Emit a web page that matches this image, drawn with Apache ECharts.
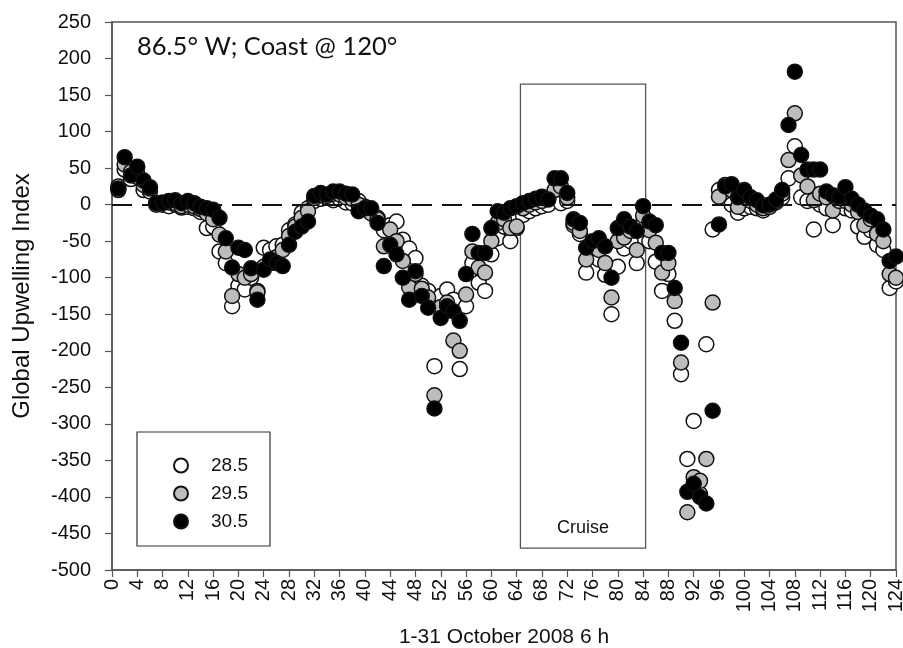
<!DOCTYPE html>
<html>
<head>
<meta charset="utf-8">
<script src="https://cdn.jsdelivr.net/npm/echarts@6/dist/echarts.min.js"></script>
<style>
html,body{margin:0;padding:0;background:#fff;}
#chart{width:903px;height:648px;}
</style>
</head>
<body>
<div id="chart"></div>
<script>
// time index (6 h steps, 1-31 October 2008)
const steps = [1,2,3,4,5,6,7,8,9,10,11,12,13,14,15,16,17,18,19,20,21,22,23,24,25,26,27,28,29,30,31,32,33,34,35,36,37,38,39,40,
41,42,43,44,45,46,47,48,49,50,51,52,53,54,55,56,57,58,59,60,61,62,63,64,65,66,67,68,69,70,71,72,73,74,75,76,77,78,79,80,
81,82,83,84,85,86,87,88,89,90,91,92,93,94,95,96,97,98,99,100,101,102,103,104,105,106,107,108,109,110,111,112,113,114,115,116,117,118,119,120,
121,122,123,124];

const s285 = [25,48,35,38,20,18,2,0,-2,0,-4,-3,-5,-10,-32,-30,-64,-80,-139,-111,
-116,-100,-118,-59,-62,-57,-55,-35,-27,-11,-5,5,8,10,6,8,3,2,5,-3,
-10,-18,-35,-28,-23,-48,-60,-73,-111,-118,-221,-125,-116,-130,-225,-139,-80,-107,-118,-68,
-46,-30,-50,-32,-14,-9,-5,-2,0,10,2,5,-28,-40,-93,-65,-75,-96,-150,-85,
-60,-50,-80,-25,-50,-78,-118,-95,-159,-232,-348,-296,-396,-191,-34,20,10,0,-11,-5,
-3,-5,-8,-2,3,10,36,80,10,5,-34,0,-5,-28,0,-5,-8,-30,-44,-35,
-55,-62,-114,-105];

const s295 = [20,55,45,42,27,22,0,2,3,2,-2,0,-2,-6,-12,-20,-41,-64,-125,-95,
-100,-95,-120,-85,-80,-72,-62,-43,-30,-18,-9,9,13,12,15,14,10,8,0,-5,
-12,-20,-57,-34,-50,-77,-113,-95,-115,-127,-261,-140,-134,-186,-200,-123,-64,-86,-93,-50,
-25,-20,-32,-30,-5,0,3,5,8,20,25,10,-25,-36,-75,-55,-62,-80,-127,-50,
-45,-36,-62,-15,-35,-52,-93,-80,-132,-216,-421,-373,-378,-348,-134,11,27,20,-3,15,
5,0,-5,-3,5,15,61,125,40,25,6,15,10,-8,5,5,0,-10,-28,-20,
-40,-50,-95,-100];

const s305 = [22,65,40,52,33,24,2,3,5,6,2,5,2,-3,-5,-7,-18,-46,-86,-59,
-62,-87,-130,-89,-75,-80,-84,-55,-37,-30,-23,12,16,14,18,18,15,14,-9,-5,
-5,-25,-84,-55,-68,-100,-130,-91,-125,-141,-279,-155,-139,-146,-159,-95,-40,-66,-66,-32,
-9,-11,-5,-2,2,5,8,11,7,36,36,16,-20,-25,-59,-50,-46,-57,-100,-32,
-20,-30,-36,-2,-23,-28,-66,-66,-114,-189,-393,-382,-400,-409,-282,-27,25,28,10,20,
10,6,-1,0,7,20,109,182,68,48,48,48,18,13,10,24,8,0,-8,-15,
-20,-34,-77,-71];

const seriesNames = ['28.5','29.5','30.5'];
const xTicks = {min:0, max:124, interval:4};
const yTicks = {min:-500, max:250, interval:50};
const cruiseBox = {x0:64.6, x1:84.4, y0:-470, y1:165};

function pairs(arr){ return steps.map((x,i)=>[x, arr[i]]); }

const chart = echarts.init(document.getElementById('chart'), null, {renderer:'canvas'});
const axisCol = '#555';
const txt = '#111';
const font = 'Liberation Sans';
const marker = (fill)=>({color:fill, borderColor:'#111', borderWidth:1.5, opacity:1});

const option = {
  animation:false,
  backgroundColor:'#fff',
  grid:{left:112, right:7, top:22, bottom:78, outerBoundsMode:'none', containLabel:false,
        show:true, borderColor:axisCol, borderWidth:1.5, backgroundColor:'transparent'},
  title:{text:'86.5° W; Coast @ 120°', left:132, top:29, textStyle:{fontFamily:'Lato', fontSize:25.5, fontWeight:'normal', color:'#111'}},
  legend:{
    orient:'vertical', left:137, top:432,
    data:seriesNames,
    itemWidth:50, itemHeight:14, itemGap:9,
    padding:[24,22,15,36],
    borderColor:'#333', borderWidth:1.2,
    icon:'circle',
    textStyle:{fontFamily:font, fontSize:19, lineHeight:17, color:txt}
  },
  xAxis:{
    type:'value', min:xTicks.min, max:xTicks.max, interval:xTicks.interval,
    name:'1-31 October 2008 6 h', nameLocation:'middle', nameGap:57,
    nameTextStyle:{fontFamily:font, fontSize:21, color:txt},
    axisLine:{show:true, onZero:false, lineStyle:{color:axisCol, width:1.5}},
    axisTick:{show:true, length:7, inside:false, lineStyle:{color:axisCol, width:1.2}},
    axisLabel:{rotate:90, margin:9, fontFamily:font, fontSize:20, color:txt},
    splitLine:{show:false}
  },
  yAxis:{
    type:'value', min:yTicks.min, max:yTicks.max, interval:yTicks.interval,
    name:'Global Upwelling Index', nameLocation:'middle', nameGap:78,
    nameTextStyle:{fontFamily:font, fontSize:24, color:txt},
    axisLine:{show:true, onZero:false, lineStyle:{color:axisCol, width:1.5}},
    axisTick:{show:true, length:7, inside:false, lineStyle:{color:axisCol, width:1.2}},
    axisLabel:{margin:21, fontFamily:font, fontSize:20, color:txt},
    splitLine:{show:false}
  },
  series:[
    {
      name:seriesNames[0], type:'scatter', symbol:'circle', symbolSize:15,
      itemStyle:marker('#ffffff'), data:pairs(s285), z:3,
      markLine:{
        silent:true, symbol:['none','none'], label:{show:false},
        lineStyle:{color:'#111', width:2, type:[20,10]},
        data:[{yAxis:0}]
      },
      markArea:{
        silent:true,
        itemStyle:{color:'rgba(0,0,0,0)', borderColor:'#555', borderWidth:1.3},
        label:{show:true, position:'insideBottom', distance:12, fontFamily:font, fontSize:18, color:txt},
        data:[[{name:'Cruise', xAxis:cruiseBox.x0, yAxis:cruiseBox.y0},{xAxis:cruiseBox.x1, yAxis:cruiseBox.y1}]]
      }
    },
    {name:seriesNames[1], type:'scatter', symbol:'circle', symbolSize:15, itemStyle:marker('#bdbdbd'), data:pairs(s295), z:4},
    {name:seriesNames[2], type:'scatter', symbol:'circle', symbolSize:15, itemStyle:marker('#000000'), data:pairs(s305), z:5}
  ]
};
chart.setOption(option);
</script>
</body>
</html>
